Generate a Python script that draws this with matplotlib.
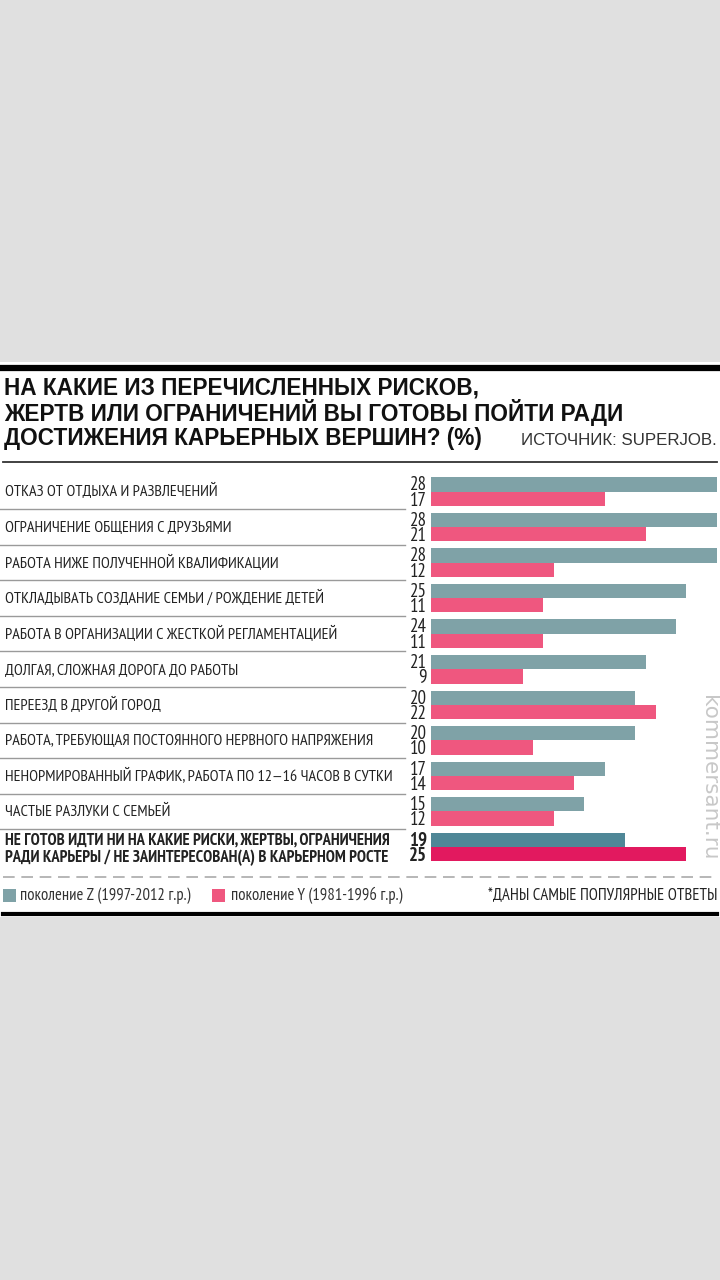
import matplotlib.pyplot as plt
from matplotlib.transforms import blended_transform_factory
from matplotlib.patches import Rectangle
from matplotlib.lines import Line2D

# Data
categories = [
    "ОТКАЗ ОТ ОТДЫХА И РАЗВЛЕЧЕНИЙ",
    "ОГРАНИЧЕНИЕ ОБЩЕНИЯ С ДРУЗЬЯМИ",
    "РАБОТА НИЖЕ ПОЛУЧЕННОЙ КВАЛИФИКАЦИИ",
    "ОТКЛАДЫВАТЬ СОЗДАНИЕ СЕМЬИ / РОЖДЕНИЕ ДЕТЕЙ",
    "РАБОТА В ОРГАНИЗАЦИИ С ЖЕСТКОЙ РЕГЛАМЕНТАЦИЕЙ",
    "ДОЛГАЯ, СЛОЖНАЯ ДОРОГА ДО РАБОТЫ",
    "ПЕРЕЕЗД В ДРУГОЙ ГОРОД",
    "РАБОТА, ТРЕБУЮЩАЯ ПОСТОЯННОГО НЕРВНОГО НАПРЯЖЕНИЯ",
    "НЕНОРМИРОВАННЫЙ ГРАФИК, РАБОТА ПО 12—16 ЧАСОВ В СУТКИ",
    "ЧАСТЫЕ РАЗЛУКИ С СЕМЬЕЙ",
]
last_label = ["НЕ ГОТОВ ИДТИ НИ НА КАКИЕ РИСКИ, ЖЕРТВЫ, ОГРАНИЧЕНИЯ",
              "РАДИ КАРЬЕРЫ / НЕ ЗАИНТЕРЕСОВАН(А) В КАРЬЕРНОМ РОСТЕ"]
gen_z = [28, 28, 28, 25, 24, 21, 20, 20, 17, 15, 19]
gen_y = [17, 21, 12, 11, 11, 9, 22, 10, 14, 12, 25]

title_top = ("НА КАКИЕ ИЗ ПЕРЕЧИСЛЕННЫХ РИСКОВ,\n"
             "ЖЕРТВ ИЛИ ОГРАНИЧЕНИЙ ВЫ ГОТОВЫ ПОЙТИ РАДИ")
title_end = "ДОСТИЖЕНИЯ КАРЬЕРНЫХ ВЕРШИН? (%)"
source = "ИСТОЧНИК: SUPERJOB."
legend_z = "поколение Z (1997-2012 г.р.)"
legend_y = "поколение Y (1981-1996 г.р.)"
footnote = "*ДАНЫ САМЫЕ ПОПУЛЯРНЫЕ ОТВЕТЫ"

# Styles
W, H = 720, 1280
col_z, col_y = "#7fa2a7", "#ef577f"
col_z_last, col_y_last = "#4f8797", "#e2195f"
narrow = ["PT Sans Narrow", "Roboto Condensed", "Liberation Sans Narrow", "DejaVu Sans"]
wide = ["Liberation Sans", "DejaVu Sans"]
txt = "#222222"


def fy(y):
    return 1 - y / H


def fx(x):
    return x / W


fig = plt.figure(figsize=(7.2, 12.8), dpi=100, facecolor="#e0e0e0")

# white panel
fig.patches.append(Rectangle((0, fy(917)), 1, (917 - 362) / H,
                             transform=fig.transFigure, facecolor="white",
                             edgecolor="none", zorder=-5))

# rules
fig.add_artist(Line2D([fx(3), fx(717)], [fy(368), fy(368)], color="black", lw=4.5))
fig.add_artist(Line2D([fx(3), fx(717)], [fy(462), fy(462)], color="#333333", lw=1.3))
fig.add_artist(Line2D([fx(3), fx(717)], [fy(876.5), fy(876.5)], color="#aaaaaa", lw=1.2,
                      dashes=(7, 4)))
fig.add_artist(Line2D([fx(3), fx(717)], [fy(913.5), fy(913.5)], color="black", lw=3))

# title (va=baseline -> last line sits on y)
fig.text(fx(4), fy(420.5), title_top, fontsize=16.3, fontweight="bold", family=wide,
         ha="left", va="baseline", linespacing=0.96, color="#111111")
fig.text(fx(4), fy(444.5), title_end, fontsize=16.3, fontweight="bold", family=wide,
         ha="left", va="baseline", color="#111111")
fig.text(fx(717), fy(445), source, fontsize=12.2, family=wide, ha="right",
         va="baseline", color="#333333")

# bars
step = 35.55
top_c = 491.5
n = len(gen_z)
ax_top = top_c - 0.5 * step
ax_bot = top_c + (n - 0.5) * step
ax = fig.add_axes([fx(431), fy(ax_bot), fx(717) - fx(431), (ax_bot - ax_top) / H])
ax.set_xlim(0, 28)
ax.set_ylim(n - 0.5, -0.5)
ax.axis("off")

bh = 14.3 / step
rows = list(range(n))
cz = [col_z] * (n - 1) + [col_z_last]
cy = [col_y] * (n - 1) + [col_y_last]
ax.barh([r - bh / 2 for r in rows], gen_z, height=bh, color=cz, align="center")
ax.barh([r + bh / 2 for r in rows], gen_y, height=bh, color=cy, align="center")

tr = blended_transform_factory(fig.transFigure, ax.transData)
px = 1 / step  # one pixel in row units
for i in rows:
    last = i == n - 1
    wt = "bold" if last else "normal"
    # both values of a row as one stacked text, anchored on the lower (Y) baseline
    ax.text(fx(427), i + bh - 0.3 * px, f"{gen_z[i]}\n{gen_y[i]}", transform=tr,
            ha="right", va="baseline", multialignment="right", linespacing=0.8,
            fontsize=13.6, family=narrow, fontweight=wt, color=txt)
    if last:
        ax.text(fx(5), i - 2.5 * px, last_label[0], transform=tr, ha="left",
                va="baseline", fontsize=11.9, family=narrow, fontweight="bold", color=txt)
        ax.text(fx(5), i + 15 * px, last_label[1], transform=tr, ha="left",
                va="baseline", fontsize=11.9, family=narrow, fontweight="bold", color=txt)
    else:
        ax.text(fx(5), i + 5 * px, categories[i], transform=tr, ha="left",
                va="baseline", fontsize=11.6, family=narrow, color=txt)
        ax.plot([fx(0), fx(405)], [i + 0.5, i + 0.5], transform=tr,
                color="#9a9a9a", lw=1, clip_on=False)

# legend
fig.patches.append(Rectangle((fx(3), fy(902)), fx(13), 13 / H, transform=fig.transFigure,
                             facecolor=col_z, edgecolor="none"))
fig.text(fx(20), fy(900.5), legend_z, fontsize=12, family=narrow, ha="left",
         va="baseline", color="#333333")
fig.patches.append(Rectangle((fx(212), fy(902)), fx(13), 13 / H, transform=fig.transFigure,
                             facecolor=col_y, edgecolor="none"))
fig.text(fx(231), fy(900.5), legend_y, fontsize=12, family=narrow, ha="left",
         va="baseline", color="#333333")
fig.text(fx(717), fy(900.5), footnote, fontsize=12, family=narrow, ha="right",
         va="baseline", color=txt)

# watermark
fig.text(fx(709), fy(778), "kommersant.ru", fontsize=15.5, rotation=-90,
         ha="center", va="center", color="#c8c8c8", family=["DejaVu Sans"])

fig.savefig("out.png", dpi=100, facecolor=fig.get_facecolor())
